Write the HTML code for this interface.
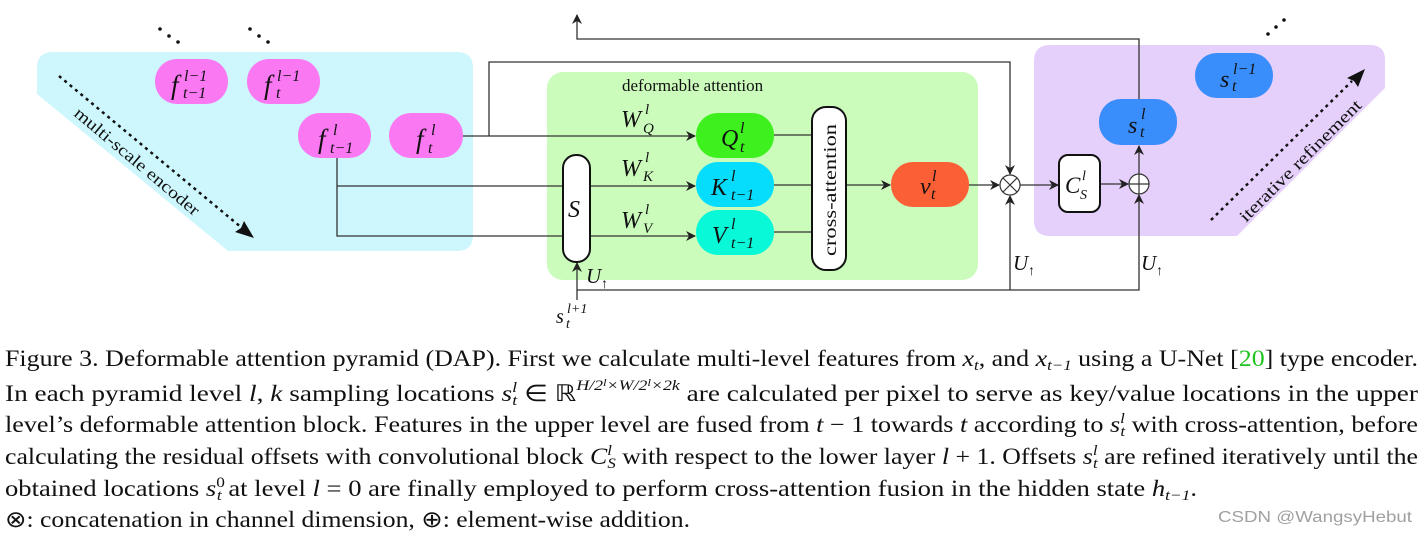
<!DOCTYPE html>
<html><head><meta charset="utf-8"><style>
html,body{margin:0;padding:0;background:#fff;}
svg{display:block;}
text{font-family:"Liberation Serif","Times New Roman",serif;fill:#111;}
.m{font-style:italic;}
</style></head><body>
<svg width="1427" height="538" viewBox="0 0 1427 538" xmlns="http://www.w3.org/2000/svg">
<defs>
<marker id="a" viewBox="0 0 10 10" refX="9" refY="5" markerWidth="10" markerHeight="10" markerUnits="userSpaceOnUse" orient="auto">
<path d="M0,0 L10,5 L0,10 L3,5 Z" fill="#222"/></marker>
</defs>
<path d="M37,68 Q37,52 53,52 H457 Q473,52 473,68 V235 Q473,251 457,251 H228 L37,94 Z" fill="#cdf7fd"/>
<path d="M1050,45 H1370 Q1385,45 1385,60 V88 L1237,236 H1050 Q1034,236 1034,220 V61 Q1034,45 1050,45 Z" fill="#e5cffb"/>
<rect x="547" y="72" width="431" height="208" rx="16" fill="#ccfcbc"/>
<text x="622" y="91" font-size="17">deformable attention</text>

<g fill="#111"><circle cx="160" cy="29" r="1.8"/><circle cx="169" cy="36" r="1.8"/><circle cx="178" cy="42" r="1.8"/>
<circle cx="250" cy="29" r="1.8"/><circle cx="259" cy="36" r="1.8"/><circle cx="268" cy="42" r="1.8"/>
<circle cx="1284" cy="20" r="1.8"/><circle cx="1276" cy="27" r="1.8"/><circle cx="1268" cy="34" r="1.8"/></g>

<line x1="59" y1="76" x2="242" y2="228" stroke="#111" stroke-width="2.5" stroke-dasharray="3,4"/>
<path d="M254,238 L235,232 L241,228 L244,221 Z" fill="#111"/>
<text transform="translate(73,115) rotate(40)" font-size="17" textLength="158" lengthAdjust="spacingAndGlyphs">multi-scale encoder</text>
<line x1="1211" y1="220" x2="1352" y2="81" stroke="#111" stroke-width="2.5" stroke-dasharray="3,4"/>
<path d="M1365,69 L1358,87 L1354,81 L1347,78 Z" fill="#111"/>
<text transform="translate(1246,223) rotate(-45)" font-size="17" textLength="165" lengthAdjust="spacingAndGlyphs">iterative refinement</text>

<g stroke="#333" stroke-width="1.3" fill="none">
<path d="M463,136 H695" marker-end="url(#a)"/>
<path d="M489,136 V62 H1010 V174" marker-end="url(#a)"/>
<path d="M337,158 V236 H695" marker-end="url(#a)"/>
<path d="M337,186 H695" marker-end="url(#a)"/>
<path d="M1139,99 V39 H577 V15" marker-end="url(#a)"/>
<path d="M577,300 V263" marker-end="url(#a)"/>
<path d="M577,290 H1139 V195" marker-end="url(#a)"/>
<path d="M1010,290 V196" marker-end="url(#a)"/>
<path d="M774,135 H812 M774,185 H812 M774,232 H812"/>
<path d="M846,185 H890" marker-end="url(#a)"/>
<path d="M969,185 H999" marker-end="url(#a)"/>
<path d="M1020,185 H1058" marker-end="url(#a)"/>
<path d="M1100,184 H1128" marker-end="url(#a)"/>
<path d="M1139,174 V146" marker-end="url(#a)"/>
</g>

<circle cx="1010" cy="185" r="10" fill="#fff" stroke="#333" stroke-width="1.2"/>
<path d="M1003,178 L1017,192 M1017,178 L1003,192" stroke="#333" stroke-width="1.2"/>
<circle cx="1139" cy="184" r="10" fill="#fff" stroke="#333" stroke-width="1.2"/>
<path d="M1129,184 H1149 M1139,174 V194" stroke="#333" stroke-width="1.2"/>

<g fill="#fb78f3">
<rect x="155" y="59" width="73" height="45" rx="22"/>
<rect x="247" y="59" width="73" height="45" rx="22"/>
<rect x="298" y="113" width="73" height="45" rx="22"/>
<rect x="389" y="113" width="74" height="45" rx="22"/>
</g>
<text class="m" x="171" y="94" font-size="27">f</text><text class="m" x="184" y="81" font-size="16">l−1</text><text class="m" x="183" y="98" font-size="16">t−1</text>
<text class="m" x="264" y="94" font-size="27">f</text><text class="m" x="277" y="81" font-size="16">l−1</text><text class="m" x="276" y="98" font-size="16">t</text>
<text class="m" x="318" y="148" font-size="27">f</text><text class="m" x="333" y="135" font-size="16">l</text><text class="m" x="330" y="153" font-size="16">t−1</text>
<text class="m" x="416" y="148" font-size="27">f</text><text class="m" x="431" y="135" font-size="16">l</text><text class="m" x="428" y="153" font-size="16">t</text>

<rect x="563" y="155" width="27" height="107" rx="13" fill="#fff" stroke="#111" stroke-width="2"/>
<text class="m" x="568" y="217" font-size="24">S</text>
<text class="m" x="586" y="283" font-size="21">U</text><text x="601" y="288" font-size="14">↑</text>
<text class="m" x="556" y="323" font-size="20">s</text><text class="m" x="567" y="313" font-size="14">l+1</text><text class="m" x="566" y="328" font-size="14">t</text>

<text class="m" x="621" y="127" font-size="24">W</text><text class="m" x="645" y="114" font-size="15">l</text><text class="m" x="643" y="133" font-size="15">Q</text>
<text class="m" x="621" y="176" font-size="24">W</text><text class="m" x="645" y="162" font-size="15">l</text><text class="m" x="643" y="181" font-size="15">K</text>
<text class="m" x="621" y="228" font-size="24">W</text><text class="m" x="645" y="214" font-size="15">l</text><text class="m" x="643" y="233" font-size="15">V</text>

<rect x="696" y="113" width="78" height="45" rx="22" fill="#3ef01e"/>
<rect x="696" y="162" width="78" height="45" rx="22" fill="#06dcfc"/>
<rect x="696" y="210" width="78" height="45" rx="22" fill="#08f8d8"/>
<text class="m" x="721" y="146" font-size="24">Q</text><text class="m" x="740" y="133" font-size="16">l</text><text class="m" x="740" y="152" font-size="16">t</text>
<text class="m" x="711" y="195" font-size="24">K</text><text class="m" x="731" y="181" font-size="16">l</text><text class="m" x="731" y="200" font-size="16">t−1</text>
<text class="m" x="712" y="243" font-size="24">V</text><text class="m" x="731" y="229" font-size="16">l</text><text class="m" x="731" y="248" font-size="16">t−1</text>

<rect x="812" y="107" width="34" height="163" rx="14" fill="#fff" stroke="#111" stroke-width="2"/>
<text transform="translate(836,256) rotate(-90)" font-size="18" textLength="132" lengthAdjust="spacingAndGlyphs">cross-attention</text>

<rect x="891" y="162" width="78" height="45" rx="22" fill="#fa5f35"/>
<text class="m" x="920" y="194" font-size="24">v</text><text class="m" x="932" y="181" font-size="16">l</text><text class="m" x="931" y="199" font-size="16">t</text>

<rect x="1059" y="155" width="41" height="57" rx="9" fill="#fff" stroke="#111" stroke-width="2"/>
<text class="m" x="1065" y="193" font-size="23">C</text><text class="m" x="1082" y="180" font-size="14">l</text><text class="m" x="1080" y="199" font-size="14">S</text>

<rect x="1099" y="99" width="78" height="46" rx="22" fill="#3a8efc"/>
<rect x="1195" y="53" width="78" height="45" rx="22" fill="#3a8efc"/>
<text class="m" x="1128" y="133" font-size="24">s</text><text class="m" x="1141" y="119" font-size="16">l</text><text class="m" x="1140" y="137" font-size="16">t</text>
<text class="m" x="1220" y="87" font-size="24">s</text><text class="m" x="1233" y="74" font-size="16">l−1</text><text class="m" x="1232" y="91" font-size="16">t</text>

<text class="m" x="1013" y="270" font-size="21">U</text><text x="1028" y="275" font-size="14">↑</text>
<text class="m" x="1141" y="270" font-size="21">U</text><text x="1156" y="275" font-size="14">↑</text>

<g font-size="23">
<text x="5" y="366" textLength="1413" lengthAdjust="spacingAndGlyphs">Figure 3. Deformable attention pyramid (DAP). First we calculate multi-level features from <tspan class="m">x</tspan><tspan class="m" font-size="15" dy="4">t</tspan><tspan dy="-4">, and </tspan><tspan class="m">x</tspan><tspan class="m" font-size="15" dy="4">t−1</tspan><tspan dy="-4"> using a U-Net [</tspan><tspan fill="#1fc41f">20</tspan>] type encoder.</text>
<text x="5" y="401" textLength="1413" lengthAdjust="spacingAndGlyphs">In each pyramid level <tspan class="m">l</tspan>, <tspan class="m">k</tspan> sampling locations <tspan class="m">s</tspan><tspan class="m" font-size="15" dy="-9">l</tspan><tspan class="m" font-size="15" dy="13" dx="-4">t</tspan><tspan dy="-4"> ∈ ℝ</tspan><tspan class="m" font-size="15" dy="-11">H/2</tspan><tspan class="m" font-size="11" dy="-4">l</tspan><tspan class="m" font-size="15" dy="4">×W/2</tspan><tspan class="m" font-size="11" dy="-4">l</tspan><tspan class="m" font-size="15" dy="4">×2k</tspan><tspan dy="11"> are calculated per pixel to serve as key/value locations in the upper</tspan></text>
<text x="5" y="432" textLength="1413" lengthAdjust="spacingAndGlyphs">level’s deformable attention block. Features in the upper level are fused from <tspan class="m">t</tspan> − 1 towards <tspan class="m">t</tspan> according to <tspan class="m">s</tspan><tspan class="m" font-size="15" dy="-9">l</tspan><tspan class="m" font-size="15" dy="13" dx="-4">t</tspan><tspan dy="-4"> with cross-attention, before</tspan></text>
<text x="5" y="464" textLength="1413" lengthAdjust="spacingAndGlyphs">calculating the residual offsets with convolutional block <tspan class="m">C</tspan><tspan class="m" font-size="15" dy="-9">l</tspan><tspan class="m" font-size="15" dy="13" dx="-4">S</tspan><tspan dy="-4"> with respect to the lower layer </tspan><tspan class="m">l</tspan> + 1. Offsets <tspan class="m">s</tspan><tspan class="m" font-size="15" dy="-9">l</tspan><tspan class="m" font-size="15" dy="13" dx="-4">t</tspan><tspan dy="-4"> are refined iteratively until the</tspan></text>
<text x="5" y="496" textLength="1192" lengthAdjust="spacingAndGlyphs">obtained locations <tspan class="m">s</tspan><tspan font-size="15" dy="-9">0</tspan><tspan class="m" font-size="15" dy="13" dx="-7">t</tspan><tspan dy="-4"> at level </tspan><tspan class="m">l</tspan> = 0 are finally employed to perform cross-attention fusion in the hidden state <tspan class="m">h</tspan><tspan class="m" font-size="15" dy="4">t−1</tspan><tspan dy="-4">.</tspan></text>
<text x="5" y="527" textLength="685" lengthAdjust="spacingAndGlyphs">⊗: concatenation in channel dimension, ⊕: element-wise addition.</text>
</g>
<text x="1218" y="522" font-size="16" style="fill:#a0a0a0;font-family:'Liberation Sans',sans-serif" textLength="194" lengthAdjust="spacingAndGlyphs">CSDN @WangsyHebut</text>
</svg>
</body></html>
